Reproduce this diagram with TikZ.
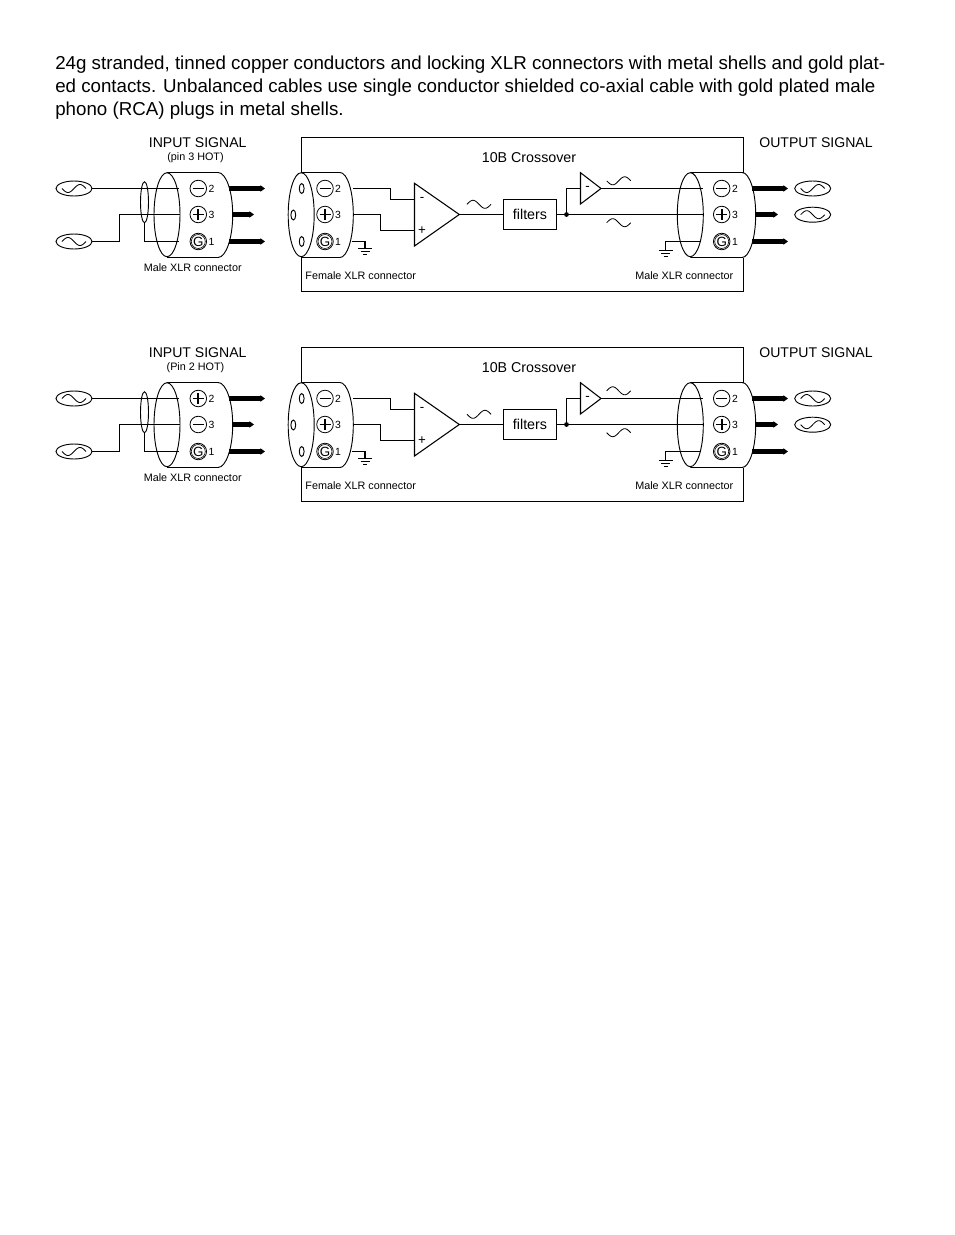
\documentclass[tikz,border=0pt]{standalone}
\usepackage{fontspec}
\setmainfont{Liberation Sans}
\usetikzlibrary{shapes.geometric,arrows.meta}
\tikzset{
  wire/.style={line width=0.8pt,line join=miter},
  thin line/.style={line width=0.7pt},
  bigoval/.style={ellipse,draw,line width=0.7pt,inner sep=0pt,minimum width=19.5pt,minimum height=63pt},
  shield/.style={ellipse,draw,line width=0.7pt,inner sep=0pt,minimum width=6pt,minimum height=30.75pt},
  srcoval/.style={ellipse,draw,line width=0.7pt,inner sep=0pt,minimum width=27pt,minimum height=11.25pt},
  hole/.style={ellipse,draw,line width=0.7pt,inner sep=0pt,minimum width=3.6pt,minimum height=7.5pt},
  pinc/.style={circle,draw,line width=0.6pt,inner sep=0pt,minimum size=12.4pt},
  pininner/.style={circle,draw,line width=0.45pt,inner sep=0pt,minimum size=10.2pt},
  pinbar/.style={line width=1.4pt},
  prong/.style={line width=3.6pt,-{Triangle[length=3.4pt,width=4.6pt]}},
  tsig/.style={font=\fontsize{10.55pt}{12pt}\selectfont,inner sep=0pt},
  tsub/.style={font=\fontsize{8.1pt}{9pt}\selectfont,inner sep=0pt},
  tnum/.style={font=\fontsize{7.8pt}{9pt}\selectfont,inner sep=0pt},
  tamp/.style={font=\fontsize{10pt}{10pt}\selectfont,inner sep=0pt},
  filterbox/.style={draw,line width=0.8pt,inner sep=0pt,minimum width=40pt,minimum height=23pt,font=\fontsize{10.7pt}{12pt}\selectfont},
  jdot/.style={circle,fill=black,inner sep=0pt,minimum size=3.6pt},
  para/.style={font=\fontsize{14.05pt}{17.25pt}\selectfont,inner sep=0pt,align=left,anchor=north west}
}
% wave: centre x, centre y, width, half height, sign
\newcommand\wave[5]{\draw[line width=0.62pt,smooth] plot[domain=-0.5:0.5,samples=31,variable=\t]
  ({#1+#3*\t},{#2-(#5)*(#4)*sin(360*(\t+0.5))});}
\newcommand\minussym[3]{\node[pinc] (#1) at (#2,#3) {};
  \draw[pinbar] (#1.center) ++(-5.5,0) -- ++(11,0);}
\newcommand\plussym[3]{\node[pinc] (#1) at (#2,#3) {};
  \draw[pinbar] (#1.center) ++(-5.5,0) -- ++(11,0);
  \draw[pinbar] (#1.center) ++(0,-5.5) -- ++(0,11);}
\newcommand\gsym[3]{\node[pinc] (#1) at (#2,#3) {};
  \node[pininner,font=\fontsize{10pt}{10pt}\selectfont] at (#1.center) {G};}
\newcommand\gndbars[1]{
  \draw[thin line] (#1) ++(-7,0) -- ++(14,0);
  \draw[thin line] (#1) ++(-4.5,3) -- ++(9,0);
  \draw[thin line] (#1) ++(-2,6) -- ++(4,0);}
% body of a connector: left x, arc-start x, x radius
\newcommand\xlrbody[3]{\draw[thin line] (#1,172.5) -- (#2,172.5)
  .. controls ({#2+0.5523*#3},172.5) and ({#2+#3},191.5) .. ({#2+#3},214.7)
  .. controls ({#2+#3},238) and ({#2+0.5523*#3},257.5) .. (#2,257.5) -- (#1,257.5);}
% id, y offset, sign, input top symbol, input middle symbol, sublabel
\newcommand\xlrdiagram[6]{
\begin{scope}[shift={(0,#2)}]
  % input side
  \node[tsig] (#1inT) at (197.7,142.4) {INPUT SIGNAL};
  \node[tsub] (#1inS) at (195.5,157.3) {#6};
  \node[srcoval] (#1srcA) at (74,188.5) {};
  \node[srcoval] (#1srcB) at (74,241.5) {};
  \wave{74}{188.5}{24}{4}{-(#3)}
  \wave{74}{241.5}{24}{4}{#3}
  \node[shield] (#1sh) at (144.5,202.2) {};
  \node[bigoval] (#1iO) at (167,214.7) {};
  \xlrbody{167}{218}{14.7}
  \coordinate (#1iA) at (178.5,188.5);
  \coordinate (#1iB) at (180,214.5);
  \coordinate (#1iC) at (178.5,241.5);
  \draw[wire] (#1srcA.east) -- (#1iA);
  \draw[wire] (#1srcB.east) -| (119.5,214.5) -- (#1iB);
  \draw[wire] (#1sh.south) |- (#1iC);
  #4{#1ia}{198.3}{188.5}
  #5{#1ib}{198.3}{214.5}
  \gsym{#1ic}{198.3}{241.5}
  \node[tnum] (#1in2) at (211.5,188.5) {2};
  \node[tnum] (#1in3) at (211.5,214.5) {3};
  \node[tnum] (#1in1) at (211.5,241.5) {1};
  \coordinate (#1pa) at (229,188.5); \coordinate (#1pae) at (265,188.5);
  \coordinate (#1pb) at (232.5,214.5); \coordinate (#1pbe) at (254,214.5);
  \coordinate (#1pc) at (229,241.5); \coordinate (#1pce) at (265,241.5);
  \draw[prong] (#1pa) -- (#1pae);
  \draw[prong] (#1pb) -- (#1pbe);
  \draw[prong] (#1pc) -- (#1pce);
  \node[tsub] (#1mi) at (192.7,268) {Male XLR connector};
  % enclosure
  \coordinate (#1tl) at (301.5,172.5); \coordinate (#1tr) at (743.5,172.5);
  \coordinate (#1bl) at (301.5,257.5); \coordinate (#1br) at (743.5,257.5);
  \draw[wire] (#1tl) -- (301.5,137.5) -- (743.5,137.5) -- (#1tr);
  \draw[wire] (#1bl) -- (301.5,291.5) -- (743.5,291.5) -- (#1br);
  % female connector
  \node[bigoval] (#1fO) at (301.2,214.7) {};
  \xlrbody{301.2}{340}{13.3}
  \node[hole] (#1h1) at (301.7,188.5) {};
  \node[hole] (#1h2) at (293.3,215) {};
  \node[hole] (#1h3) at (301.7,241.5) {};
  \minussym{#1fa}{325}{188.5}
  \plussym{#1fb}{325}{214.5}
  \gsym{#1fc}{325}{241.5}
  \node[tnum] (#1f2) at (338,188.5) {2};
  \node[tnum] (#1f3) at (338,214.5) {3};
  \node[tnum] (#1f1) at (338,241.5) {1};
  \node[tsub,anchor=west] (#1fl) at (305.2,276) {Female XLR connector};
  \coordinate (#1fwA) at (353,188.5);
  \coordinate (#1fwB) at (353.3,214.5);
  \coordinate (#1fwC) at (351.5,241.5);
  \coordinate (#1g1) at (365,248.5);
  \draw[wire] (#1fwC) -| (#1g1);
  \gndbars{#1g1}
  % main amplifier
  \coordinate (#1ampT) at (414.5,183.3);
  \coordinate (#1ampB) at (414.5,246);
  \coordinate (#1ampO) at (459.3,214.5);
  \coordinate (#1ampM) at (414.5,199.5);
  \coordinate (#1ampP) at (414.5,230.5);
  \draw[wire] (#1ampT) -- (#1ampO) -- (#1ampB) -- cycle;
  \node[tamp] (#1mns) at (422,199.3) {-};
  \node[tamp] (#1pls) at (422,230.3) {+};
  \draw[wire] (#1fwA) -| (390.5,199.5) -- (#1ampM);
  \draw[wire] (#1fwB) -| (380.5,230.5) -- (#1ampP);
  \wave{479}{204.3}{24}{4}{#3}
  \node[filterbox] (#1flt) at (530,214.5) {filters};
  \draw[wire] (#1ampO) -- (#1flt.west);
  \node[tsig,font=\fontsize{10.7pt}{12pt}\selectfont] (#1ttl) at (529,158) {10B Crossover};
  % junction and small amplifier
  \node[jdot] (#1j) at (566.5,214.5) {};
  \coordinate (#1sT) at (580.5,172.7);
  \coordinate (#1sB) at (580.5,204);
  \coordinate (#1sO) at (601,188.5);
  \coordinate (#1sI) at (580.5,188.5);
  \draw[wire] (#1sT) -- (#1sO) -- (#1sB) -- cycle;
  \node[tamp] (#1smn) at (587.7,188.5) {-};
  \draw[wire] (#1j) |- (#1sI);
  \wave{618.7}{180.8}{24}{4}{-(#3)}
  \wave{618.7}{222.7}{24}{4}{#3}
  % output connector
  \node[bigoval] (#1oO) at (690.3,214.7) {};
  \xlrbody{690.3}{742}{13.7}
  \coordinate (#1oA) at (703,188.5);
  \coordinate (#1oB) at (703,214.5);
  \draw[wire] (#1sO) -- (#1oA);
  \draw[wire] (#1flt.east) -- (#1j) -- (#1oB);
  \coordinate (#1oC) at (700.5,241.5);
  \coordinate (#1g2) at (665.5,250.5);
  \draw[wire] (#1oC) -| (#1g2);
  \gndbars{#1g2}
  \minussym{#1oa}{721.7}{188.5}
  \plussym{#1ob}{721.7}{214.5}
  \gsym{#1oc}{721.7}{241.5}
  \node[tnum] (#1o2) at (735,188.5) {2};
  \node[tnum] (#1o3) at (735,214.5) {3};
  \node[tnum] (#1o1) at (735,241.5) {1};
  \node[tsub] (#1ml) at (684.2,276) {Male XLR connector};
  \coordinate (#1qa) at (752,188.5); \coordinate (#1qae) at (788,188.5);
  \coordinate (#1qb) at (755.5,214.5); \coordinate (#1qbe) at (778,214.5);
  \coordinate (#1qc) at (752,241.5); \coordinate (#1qce) at (788,241.5);
  \draw[prong] (#1qa) -- (#1qae);
  \draw[prong] (#1qb) -- (#1qbe);
  \draw[prong] (#1qc) -- (#1qce);
  \node[srcoval] (#1outA) at (812.7,188.5) {};
  \node[srcoval] (#1outB) at (812.7,214.7) {};
  \wave{812.7}{188.5}{24}{4}{-(#3)}
  \wave{812.7}{214.7}{24}{4}{#3}
  \node[tsig] (#1ot) at (816,142.4) {OUTPUT SIGNAL};
\end{scope}
}
\begin{document}
\begin{tikzpicture}[x=0.75pt,y=-0.75pt]
\useasboundingbox (0,0) rectangle (954,1235);
\fill[white] (0,0) rectangle (954,1235);
\node[para] (intro) at (55,56) {24g stranded, tinned copper conductors and locking XLR connectors with metal shells and gold plat-\\
ed contacts. Unbalanced cables use single conductor shielded co-axial cable with gold plated male\\
phono (RCA) plugs in metal shells.};
\xlrdiagram{a}{0}{1}{\minussym}{\plussym}{(pin 3 HOT)}
\xlrdiagram{b}{210}{-1}{\plussym}{\minussym}{(Pin 2 HOT)}
\end{tikzpicture}
\end{document}
